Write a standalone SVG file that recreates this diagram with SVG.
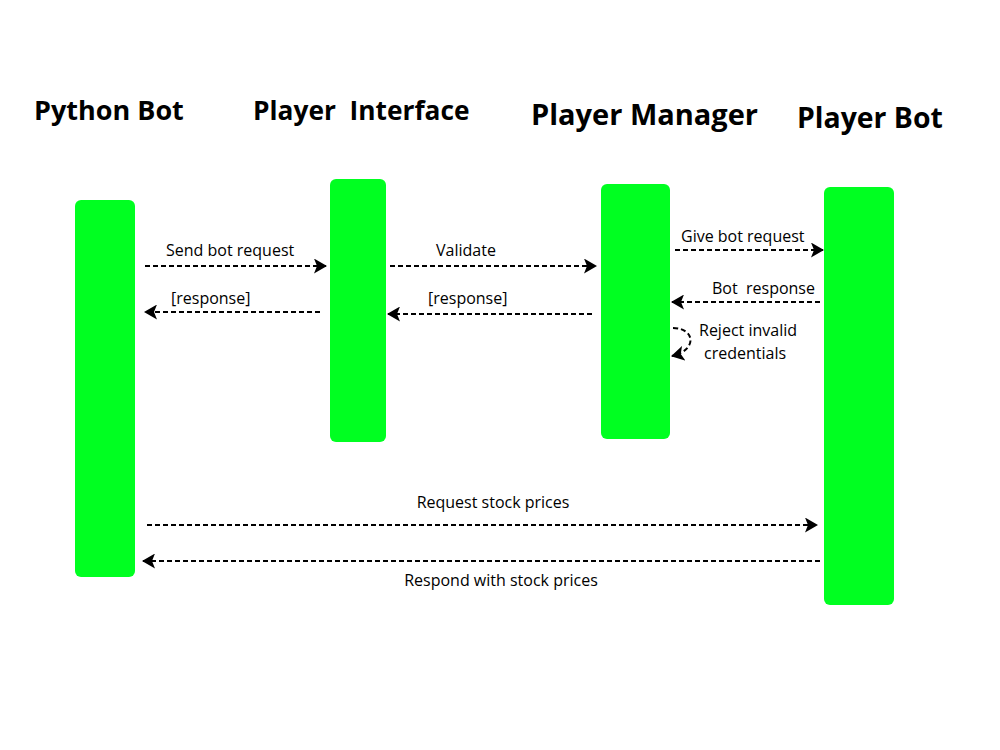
<svg xmlns="http://www.w3.org/2000/svg" width="1000" height="750" viewBox="0 0 1000 750">
<style>
.bar{fill:#00ff21;}
.title{font-family:"Open Sans","Liberation Sans",sans-serif;font-weight:bold;font-size:27px;fill:#000;}
.lbl{font-family:"Open Sans","Liberation Sans",sans-serif;font-size:16px;fill:#000;}
.msg{stroke:#000;stroke-width:2;stroke-dasharray:5 3;fill:none;}
</style>
<defs>
<marker id="ah" viewBox="0 0 13 15" refX="12" refY="7.5" markerWidth="13" markerHeight="15" markerUnits="userSpaceOnUse" orient="auto">
<path d="M0,0 L13,7.5 L0,15 L3,7.5 Z" fill="#000"/>
</marker>
</defs>
<rect width="1000" height="750" fill="#fff"/>
<g id="python-bot">
<rect class="bar" x="75" y="200" width="60" height="377" rx="6"/>
<text class="title" x="34" y="120">Python Bot</text>
</g>
<g id="player-interface">
<rect class="bar" x="330" y="179" width="56" height="263" rx="6"/>
<text class="title" x="253" y="120" style="font-size:26.3px" xml:space="preserve">Player  Interface</text>
</g>
<g id="player-manager">
<rect class="bar" x="601" y="184" width="69" height="255" rx="6"/>
<text class="title" x="531" y="125" style="font-size:29px">Player Manager</text>
</g>
<g id="player-bot">
<rect class="bar" x="824" y="187" width="70" height="418" rx="6"/>
<text class="title" x="797" y="128" style="font-size:28.4px">Player Bot</text>
</g>
<g id="connectors">
<path class="msg" d="M145,266 H326" marker-end="url(#ah)"/>
<text class="lbl" x="166" y="256">Send bot request</text>
<path class="msg" d="M320,312 H145" marker-end="url(#ah)"/>
<text class="lbl" x="171" y="304">[response]</text>
<path class="msg" d="M390,266 H596" marker-end="url(#ah)"/>
<text class="lbl" x="466" y="256" text-anchor="middle">Validate</text>
<path class="msg" d="M592,314 H388" marker-end="url(#ah)"/>
<text class="lbl" x="428" y="304">[response]</text>
<path class="msg" d="M675,250 H823" marker-end="url(#ah)"/>
<text class="lbl" x="681" y="242">Give bot request</text>
<path class="msg" d="M820,302 H672" marker-end="url(#ah)"/>
<text class="lbl" x="712" y="294" xml:space="preserve">Bot  response</text>
<path class="msg" d="M673,328 C695,328 698,350 672,356" marker-end="url(#ah)"/>
<text class="lbl" x="699" y="336">Reject invalid</text>
<text class="lbl" x="704" y="359">credentials</text>
<path class="msg" d="M147,525 H817" marker-end="url(#ah)"/>
<text class="lbl" x="493" y="508" text-anchor="middle">Request stock prices</text>
<path class="msg" d="M820,561 H143" marker-end="url(#ah)"/>
<text class="lbl" x="501" y="586" text-anchor="middle">Respond with stock prices</text>
</g>
</svg>
